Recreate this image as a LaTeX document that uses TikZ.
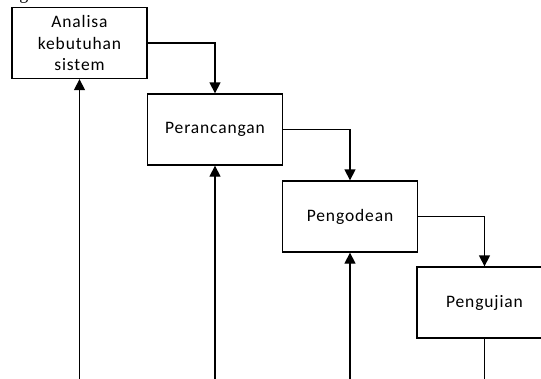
\documentclass[tikz,border=0pt]{standalone}
\usepackage{fontspec}
\setmainfont{Carlito}[LetterSpace=5]
\newfontfamily\capfont{Liberation Serif}
\usetikzlibrary{arrows.meta}
\begin{document}
\begin{tikzpicture}[x=1pt,y=-1pt,
  stage/.style={draw,line width=1.3pt,minimum width=135pt,minimum height=71pt,inner sep=0pt,align=center,font=\fontsize{17.5}{21.5}\selectfont},
  flow/.style={line width=1.3pt,-{Triangle[width=11pt,length=11pt]}},
  plain/.style={line width=1.3pt}]
\useasboundingbox (0,0) rectangle (541,378);
\clip (0,0) rectangle (541,378);
\node[anchor=base,font=\capfont\fontsize{18}{18}\selectfont] (cap) at (24,-1) {g};
\node[stage] (b1) at (79.5,43) {Analisa\\kebutuhan\\sistem};
\node[stage] (b2) at (215,129.5) {Perancangan};
\node[stage] (b3) at (350,216.5) {Pengodean};
\node[stage] (b4) at (484.5,302.5) {Pengujian};
\coordinate (f1) at (79.5,380);
\coordinate (f2) at (215,380);
\coordinate (f3) at (350,380);
\coordinate (f4) at (484.5,380);
\draw[flow] (b1.east) -| (b2.north);
\draw[flow] (b2.east) -| (b3.north);
\draw[flow] (b3.east) -| (b4.north);
\draw[flow] (f1) -- (b1.south);
\draw[flow] (f2) -- (b2.south);
\draw[flow] (f3) -- (b3.south);
\draw[plain] (b4.south) -- (f4);
\end{tikzpicture}
\end{document}
